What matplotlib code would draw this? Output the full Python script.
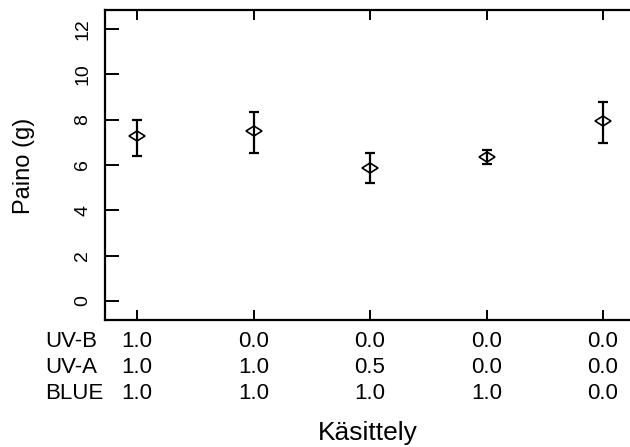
import matplotlib
matplotlib.use("Agg")
import matplotlib.pyplot as plt
from matplotlib.markers import MarkerStyle
from matplotlib.transforms import Affine2D

plt.rcParams['font.family'] = ['Liberation Sans', 'DejaVu Sans']

# treatments (x positions 1..5) and their light composition
treat = [1, 2, 3, 4, 5]
uvb = ["1.0", "0.0", "0.0", "0.0", "0.0"]
uva = ["1.0", "1.0", "0.5", "0.0", "0.0"]
blue = ["1.0", "1.0", "1.0", "1.0", "0.0"]
row_names = ["UV-B", "UV-A", "BLUE"]

# mean weight and error bar ends (g)
mean_w = [7.28, 7.51, 5.88, 6.37, 7.95]
upper = [7.98, 8.35, 6.54, 6.65, 8.79]
lower = [6.41, 6.54, 5.22, 6.04, 6.98]

yerr = [[m - lo for m, lo in zip(mean_w, lower)],
        [hi - m for m, hi in zip(mean_w, upper)]]

fig = plt.figure(figsize=(6.3, 4.47), dpi=100)
ax = fig.add_axes([105 / 630, 1 - 320 / 447, 533 / 630, 310 / 447])

mk = MarkerStyle('D', fillstyle='none', transform=Affine2D().scale(1.45, 1.0))
ax.errorbar(treat, mean_w, yerr=yerr, fmt='none', ecolor='black',
            elinewidth=1.6, capsize=3.7, capthick=1.6)
ax.plot(treat, mean_w, linestyle='none', marker=mk, markersize=5.5,
        markeredgecolor='black', markeredgewidth=1.2, color='black')

ax.set_xlim(0.725, 5.3)
ax.set_ylim(-0.84, 12.84)

for side in ['left', 'bottom', 'top']:
    ax.spines[side].set_linewidth(1.6)
ax.spines['right'].set_visible(False)

ax.set_yticks([0, 2, 4, 6, 8, 10, 12])
ax.tick_params(axis='y', direction='in', length=10, width=1.4, pad=10,
               labelsize=14, labelrotation=90)
for lab in ax.get_yticklabels():
    lab.set_verticalalignment('center')
ax.set_xticks(treat)
ax.set_xticklabels([])
ax.tick_params(axis='x', direction='in', length=7.2, width=1.4,
               top=True, bottom=True)

# composition table under the axis
rows_y = [-0.068, -0.152, -0.236]
for vals, ry in zip([uvb, uva, blue], rows_y):
    for xv, v in zip(treat, vals):
        ax.text(xv, ry, v, transform=ax.get_xaxis_transform(),
                ha='center', va='center', fontsize=16)
for name, ry in zip(row_names, rows_y):
    ax.text(-60 / 533, ry, name, transform=ax.transAxes,
            ha='left', va='center', fontsize=16)

fig.text(368 / 630, 1 - 433 / 447, "Käsittely", ha='center', va='center',
         fontsize=19)
fig.text(24 / 630, 1 - 166 / 447, "Paino (g)", ha='center', va='center',
         rotation=90, fontsize=17)

fig.savefig("out.png", dpi=100)
